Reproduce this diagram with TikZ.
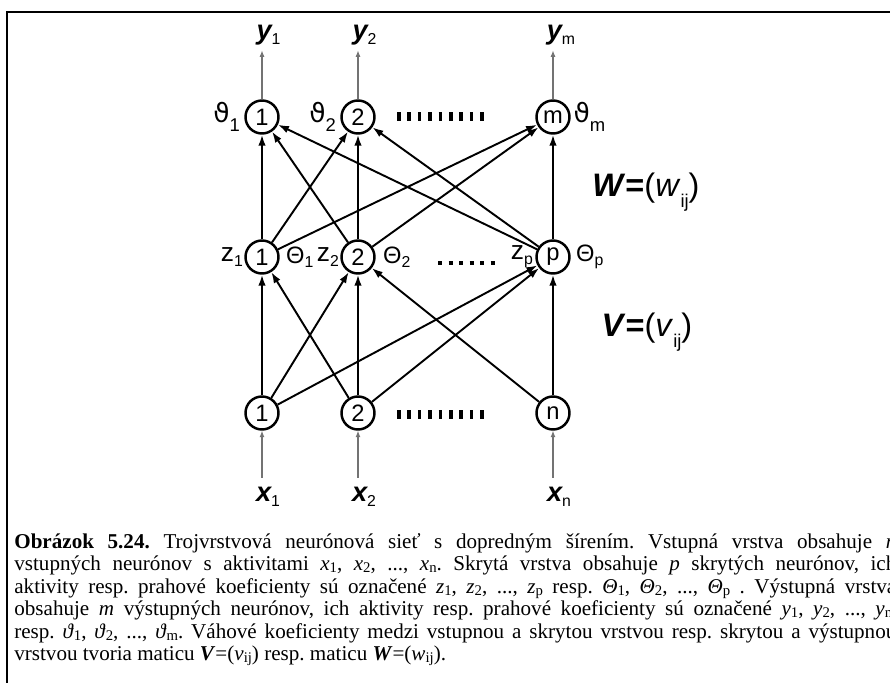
\documentclass[tikz,border=0pt]{standalone}
\usepackage{fontspec}
\setmainfont{Liberation Serif}
\newfontfamily\arialfont{Liberation Sans}
\newfontfamily\greekfont{DejaVu Sans}
\usetikzlibrary{positioning,arrows.meta}

% small subscripts (diagram / caption)
\newcommand{\dsub}[1]{\raisebox{-0.35ex}{\fontsize{9}{9}\selectfont\mdseries\upshape #1}}
\newcommand{\msub}[1]{\raisebox{-0.6ex}{\fontsize{10.5}{11}\selectfont\mdseries\upshape #1}}
\newcommand{\csub}[1]{\raisebox{-0.2ex}{\fontsize{8.4}{8.4}\selectfont\upshape #1}}

\tikzset{
  neuron/.style={circle, draw, line width=1.4pt, minimum size=0.66cm, inner sep=0pt,
                 font=\arialfont\fontsize{13.5}{14}\selectfont},
  conn/.style={-{Latex[length=0.22cm,width=0.15cm]}, line width=1.1pt},
  io/.style={-{Latex[length=0.13cm,width=0.1cm]}, line width=0.6pt, black!55},
  lbl/.style={inner sep=0pt, font=\arialfont\fontsize{15}{16}\selectfont},
  thlbl/.style={inner sep=0pt, font=\arialfont\fontsize{13.5}{14}\selectfont},
  iolbl/.style={inner sep=0pt, font=\arialfont\bfseries\itshape\fontsize{15.5}{16}\selectfont},
  matlbl/.style={inner sep=0pt, font=\arialfont\fontsize{18.5}{20}\selectfont},
  caption/.style={inner sep=0pt, text width=17.64cm, align=justify,
                  font=\fontsize{12}{12.8}\selectfont},
}

\begin{document}
\begin{tikzpicture}
\useasboundingbox (0,0) rectangle (17.8,13.64);
\clip (0,0) rectangle (17.8,13.64);

% ── Frame ───────────────────────────────────────
\draw[line width=0.04cm] (0.13,-1) -- (0.13,13.40) -- (19,13.40);

% ── Neurons ─────────────────────────────────────
% input layer
\node[neuron] (in1) at (5.24,5.38) {1};
\node[neuron] (in2) at (7.16,5.38) {2};
\node[neuron] (inn) at (11.06,5.38) {n};
% hidden layer
\node[neuron] (hid1) at (5.24,8.50) {1};
\node[neuron] (hid2) at (7.16,8.50) {2};
\node[neuron] (hidp) at (11.06,8.50) {p};
% output layer
\node[neuron] (out1) at (5.24,11.30) {1};
\node[neuron] (out2) at (7.16,11.30) {2};
\node[neuron] (outm) at (11.06,11.30) {m};

% ── Weights ─────────────────────────────────────
\foreach \a/\b in {in1/hid1, in1/hid2, in1/hidp, in2/hid1, in2/hid2, in2/hidp,
                   inn/hid2, inn/hidp,
                   hid1/out1, hid1/out2, hid1/outm, hid2/out1, hid2/out2, hid2/outm,
                   hidp/out1, hidp/out2, hidp/outm}
  \draw[conn] (\a) -- (\b);

% ── Thresholds and activities ───────────────────
\node[lbl, left=0.08cm of out1] (th1) {{\greekfont ϑ}\msub{1}};
\node[lbl, left=0.08cm of out2] (th2) {{\greekfont ϑ}\msub{2}};
\node[lbl, right=0.05cm of outm] (thm) {{\greekfont ϑ}\msub{m}};

\node[lbl, left=0.02cm of hid1] (z1) {z\dsub{1}};
\node[thlbl, right=0.12cm of hid1] (Th1) {Θ\dsub{1}};
\node[lbl, left=0.02cm of hid2] (z2) {z\dsub{2}};
\node[thlbl, right=0.14cm of hid2] (Th2) {Θ\dsub{2}};
\node[lbl, left=0.04cm of hidp] (zp) {z\dsub{p}};
\node[thlbl, right=0.1cm of hidp] (Thp) {Θ\dsub{p}};

% dots between neurons
\draw[line width=0.18cm, dash pattern=on 0.07cm off 0.138cm] (7.94,11.30) -- (9.67,11.30);
\draw[line width=0.08cm, dash pattern=on 0.08cm off 0.13cm] (8.76,8.38) -- (9.89,8.38);
\draw[line width=0.18cm, dash pattern=on 0.07cm off 0.138cm] (7.94,5.36) -- (9.67,5.36);

% ── Inputs and outputs ──────────────────────────
\node[iolbl] (y1) at (5.37,12.94) {y\dsub{1}};
\node[iolbl] (y2) at (7.29,12.94) {y\dsub{2}};
\node[iolbl] (ym) at (11.22,12.94) {y\dsub{m}};
\foreach \o/\l in {out1/y1, out2/y2, outm/ym}
  \draw[io, shorten >=0.1cm] (\o) -- (\o |- \l.south);

\node[iolbl] (x1) at (5.36,3.70) {x\dsub{1}};
\node[iolbl] (x2) at (7.28,3.70) {x\dsub{2}};
\node[iolbl] (xn) at (11.18,3.70) {x\dsub{n}};
\foreach \i/\l in {in1/x1, in2/x2, inn/xn}
  \draw[io, shorten <=0.18cm] (\i |- \l.north) -- (\i);

% ── Weight matrices ─────────────────────────────
\node[matlbl] (Wm) at (12.92,9.80) {\textbf{\textit{W}=}(\textit{w}\msub{ij})};
\node[matlbl] (Vm) at (12.94,7.00) {\textbf{\textit{V}=}(\textit{v}\msub{ij})};

% ── Caption ─────────────────────────────────────
\node[caption, anchor=north west] (capt) at (0.28,2.98) {\frenchspacing
\textbf{Obrázok 5.24.} Trojvrstvová neurónová sieť s dopredným šírením. Vstupná vrstva obsahuje \textit{n}\linebreak
vstupných neurónov s aktivitami \textit{x}\csub{1}, \textit{x}\csub{2}, ..., \textit{x}\csub{n}. Skrytá vrstva obsahuje \textit{p} skrytých neurónov, ich\linebreak
aktivity resp. prahové koeficienty sú označené \textit{z}\csub{1}, \textit{z}\csub{2}, ..., \textit{z}\csub{p} resp. \textit{Θ}\csub{1}, \textit{Θ}\csub{2}, ..., \textit{Θ}\csub{p} . Výstupná vrstva\linebreak
obsahuje \textit{m} výstupných neurónov, ich aktivity resp. prahové koeficienty sú označené \textit{y}\csub{1}, \textit{y}\csub{2}, ..., \textit{y}\csub{m}\linebreak
resp. \textit{ϑ}\csub{1}, \textit{ϑ}\csub{2}, ..., \textit{ϑ}\csub{m}. Váhové koeficienty medzi vstupnou a skrytou vrstvou resp. skrytou a výstupnou\linebreak
vrstvou tvoria maticu \textbf{\textit{V}}=(\textit{v}\csub{ij}) resp. maticu \textbf{\textit{W}}=(\textit{w}\csub{ij}).};

\end{tikzpicture}
\end{document}
